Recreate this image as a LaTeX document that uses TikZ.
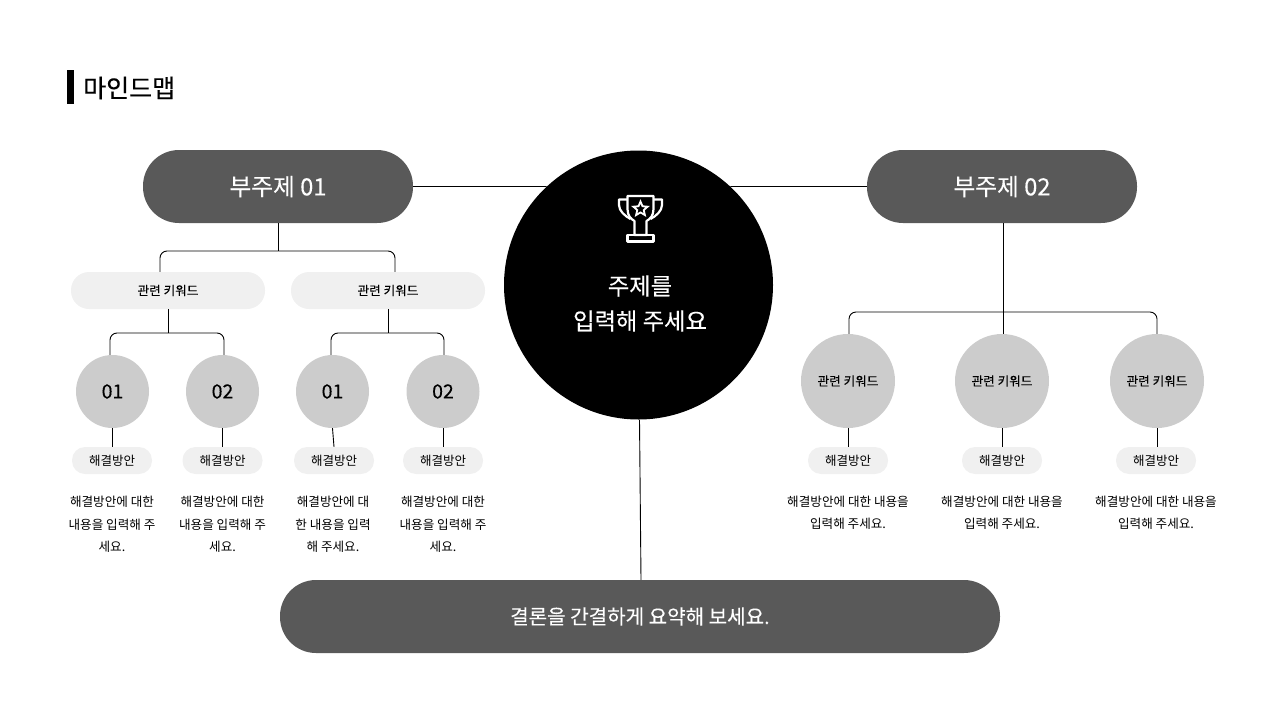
\documentclass[tikz,border=0pt]{standalone}
\usepackage{fontspec}
\setmainfont{Noto Sans CJK KR}
\newfontfamily\medfont[FakeBold=0.25]{Noto Sans CJK KR}
\usetikzlibrary{shapes.geometric}
\usetikzlibrary{positioning}
\definecolor{pillgray}{HTML}{595959}
\definecolor{ballgray}{HTML}{CCCCCC}
\definecolor{softgray}{HTML}{F0F0F0}
\tikzset{
	link/.style={draw=black, line width=.9pt, rounded corners=7pt},
	subpill/.style={rectangle, rounded corners=36pt, fill=pillgray, text=white, minimum width=270pt, minimum height=73pt, inner sep=0pt, font=\medfont\fontsize{23.7}{26}\selectfont},
	keypill/.style={rectangle, rounded corners=18pt, fill=softgray, minimum width=194pt, minimum height=37pt, inner sep=0pt, font=\medfont\fontsize{12.6}{15}\selectfont},
	fixpill/.style={rectangle, rounded corners=13pt, fill=softgray, minimum width=80pt, minimum height=27pt, inner sep=0pt, font=\fontsize{12.5}{15}\selectfont},
	numball/.style={circle, fill=ballgray, minimum size=73pt, inner sep=0pt, font=\medfont\fontsize{19.5}{22}\selectfont},
	keyball/.style={circle, fill=ballgray, minimum size=94pt, inner sep=0pt, font=\medfont\fontsize{12.6}{15}\selectfont},
	bodytext/.style={align=center, inner sep=0pt, font=\fontsize{12.6}{22.5}\selectfont},
}
\begin{document}
\begin{tikzpicture}[x=1pt, y=-1pt]
	\useasboundingbox (0,0) rectangle (1280,720);
	% title
	\fill (67,70) rectangle (74,104);
	\node[anchor=west, inner sep=0pt, font=\medfont\fontsize{25}{28}\selectfont] (title) at (83,88) {마인드맵};
	% main nodes
	\node[circle, fill=black, text=white, minimum size=269pt, inner sep=0pt] (topic) at (638.5,285) {};
	\node[text=white, align=center, inner sep=0pt, font=\medfont\fontsize{23.3}{35}\selectfont] (topictext) at (640,303.5) {주제를\\입력해 주세요};
	\node[subpill] (subone) at (278,186.5) {부주제 01};
	\node[subpill] (subtwo) at (1002,186.5) {부주제 02};
	\node[subpill, minimum width=720pt, font=\medfont\fontsize{20.1}{24}\selectfont] (summary) at (640,616.5) {결론을 간결하게 요약해 보세요.};
	% trophy
	\draw[white, line width=2.2pt, line join=round]
		(627.5,196) -- (653.5,196) -- (653.5,209) .. controls (653.5,216) and (650,219) .. (646.5,221) -- (646.5,235) -- (634.5,235) -- (634.5,221) .. controls (631,219) and (627.5,216) .. (627.5,209) -- cycle;
	\draw[white, line width=2.2pt, line join=round] (627.5,199.5) -- (619,199.5) -- (619,205) .. controls (619,211) and (625,216) .. (630.5,219);
	\draw[white, line width=2.2pt, line join=round] (653.5,199.5) -- (662,199.5) -- (662,205) .. controls (662,211) and (656,216) .. (650.5,219);
	\draw[white, line width=2.2pt, line join=round] (627.5,235) rectangle (653.5,241.5);
	\node[star, star points=5, star point ratio=2.2, draw=white, line width=1.8pt, minimum size=15pt, inner sep=0pt] (cupstar) at (640.5,209) {};
	% left branch
	\node[keypill] (keya) at (168,290.5) {관련 키워드};
	\node[keypill] (keyb) at (388,290.5) {관련 키워드};
	\node[numball] (ballaa) at (112.5,391.5) {01};
	\node[numball] (ballab) at (222.5,391.5) {02};
	\node[numball] (ballba) at (332.5,391.5) {01};
	\node[numball] (ballbb) at (443,391.5) {02};
	\node[fixpill] (fixaa) at (112,460.5) {해결방안};
	\node[fixpill] (fixab) at (222.5,460.5) {해결방안};
	\node[fixpill] (fixba) at (334,460.5) {해결방안};
	\node[fixpill] (fixbb) at (443,460.5) {해결방안};
	\node[bodytext] (textaa) at (112,524.5) {해결방안에 대한\\내용을 입력해 주\\세요.};
	\node[bodytext] (textab) at (222.5,524.5) {해결방안에 대한\\내용을 입력해 주\\세요.};
	\node[bodytext] (textba) at (333,524.5) {해결방안에 대\\한 내용을 입력\\해 주세요.};
	\node[bodytext] (textbb) at (443,524.5) {해결방안에 대한\\내용을 입력해 주\\세요.};
	% right branch
	\node[keyball] (ballc) at (848,381) {관련 키워드};
	\node[keyball] (balld) at (1002,381) {관련 키워드};
	\node[keyball] (balle) at (1157,381) {관련 키워드};
	\node[fixpill] (fixc) at (848,460.5) {해결방안};
	\node[fixpill] (fixd) at (1002,460.5) {해결방안};
	\node[fixpill] (fixe) at (1156,460.5) {해결방안};
	\node[bodytext] (textc) at (848,513) {해결방안에 대한 내용을\\입력해 주세요.};
	\node[bodytext] (textd) at (1002,513) {해결방안에 대한 내용을\\입력해 주세요.};
	\node[bodytext] (texte) at (1156,513) {해결방안에 대한 내용을\\입력해 주세요.};
	% connectors
	\draw[link] (subone.east) -- (topic.133);
	\draw[link] (subtwo.west) -- (topic.47);
	\draw[link] ([xshift=1pt]topic.south) -- ([xshift=1pt]summary.north);
	\coordinate (joina) at (278.5,251);
	\coordinate (joinb) at (168,333);
	\coordinate (joinc) at (388.5,333);
	\coordinate (joind) at (1003,312);
	\draw[link] (subone.south -| joina) -- (joina);
	\draw[link] ([xshift=-8pt]keya.north) |- (joina);
	\draw[link] ([xshift=7pt]keyb.north) |- (joina);
	\draw[link] (keya.south) -- (joinb);
	\draw[link] ([xshift=-2.5pt]ballaa.north) |- (joinb);
	\draw[link] ([xshift=1.5pt]ballab.north) |- (joinb);
	\draw[link] (keyb.south -| joinc) -- (joinc);
	\draw[link] ([xshift=-1.5pt]ballba.north) |- (joinc);
	\draw[link] ([xshift=1pt]ballbb.north) |- (joinc);
	\draw[link] (subtwo.south -| joind) -- (balld.north -| joind);
	\draw[link] ([xshift=1pt]ballc.north) |- (joind);
	\draw[link] (balle.north) |- (joind);
	\draw[link] (ballaa.south) -- (ballaa.south |- fixaa.north);
	\draw[link] (ballab.south) -- (fixab.north);
	\draw[link] (ballba.south) -- (fixba.north);
	\draw[link] (ballbb.south) -- (fixbb.north);
	\draw[link] (ballc.south) -- (fixc.north);
	\draw[link] (balld.south) -- (fixd.north);
	\draw[link] (balle.south) -- (balle.south |- fixe.north);
\end{tikzpicture}
\end{document}
